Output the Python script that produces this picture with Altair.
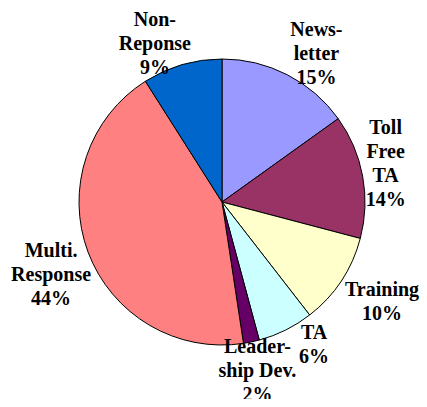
import math
import altair as alt
import pandas as pd

categories = ["Newsletter", "Toll Free TA", "Training", "TA", "Leadership Dev.", "Multi. Response", "Non-Reponse"]
values = [15.1, 14.0, 10.4, 6.3, 1.8, 43.4, 9.0]
label_names = ["News-\nletter", "Toll\nFree\nTA", "Training", "TA", "Leader-\nship Dev.", "Multi.\nResponse", "Non-\nReponse"]
pct_labels = ["15%", "14%", "10%", "6%", "2%", "44%", "9%"]
colors = ["#9999FF", "#993366", "#FFFFCC", "#CCFFFF", "#660066", "#FF8080", "#0066CC"]

PIE_R = 143
FONT_SIZE = 20
LINE_H = 24
GAP_X = 0            # horizontal gap between the pie edge and a label block
TOP_OVERLAP = 15     # labels above the pie sit slightly over its edge (as in the original)
BOTTOM_OVERLAP = 3
BOTTOM_LIMIT = 205   # lowest allowed label-block bottom, relative to the pie centre (px)
LABEL_DX = 3         # small rightward nudge of all labels
total = sum(values)

# approximate Times-Bold advance widths (1/1000 em), used only to lay labels out
_W = {"N": 722, "e": 444, "w": 722, "s": 389, "-": 333, "l": 278, "t": 333, "r": 444, "T": 667,
      "o": 500, "F": 611, "A": 722, "%": 1000, "a": 500, "i": 278, "n": 556, "g": 500, "L": 667,
      "d": 556, "h": 556, "p": 556, " ": 250, "D": 722, "v": 500, ".": 250, "M": 944, "u": 556,
      "R": 722}


def text_w(s):
    return sum(_W.get(c, 500) for c in s) / 1000 * FONT_SIZE


# --- spreadsheet-style "outside end" label layout
labels = []
cum = 0.0
for name, v, pct in zip(label_names, values, pct_labels):
    lines = name.split("\n") + [pct]
    labels.append({"a": (cum + v / 2) / total * 360, "lines": lines,
                   "w": max(text_w(s) for s in lines), "h": len(lines) * LINE_H})
    cum += v


def place(l):
    t = math.radians(l["a"])
    ex, ey = PIE_R * math.sin(t), -PIE_R * math.cos(t)
    sx = max(-1.0, min(1.0, 3 * math.sin(t)))
    sy = max(-1.0, min(1.0, -2 * math.cos(t)))
    ext_y = l["h"] / 2 - (BOTTOM_OVERLAP if sy > 0 else TOP_OVERLAP)
    cx, cy = ex + sx * (l["w"] / 2 + GAP_X), ey + sy * ext_y
    cy = min(cy, BOTTOM_LIMIT - l["h"] / 2)
    return cx, cy


def box(l):
    x, y = place(l)
    return x - l["w"] / 2, y - l["h"] / 2, x + l["w"] / 2, y + l["h"] / 2


for _ in range(400):
    moved = False
    for i in range(len(labels)):
        p, q = labels[i], labels[(i + 1) % len(labels)]
        b1, b2 = box(p), box(q)
        if b1[0] < b2[2] + 2 and b2[0] < b1[2] + 2 and b1[1] < b2[3] and b2[1] < b1[3]:
            p["a"] -= 0.25
            q["a"] += 0.25
            moved = True
    if not moved:
        break

pie_df = pd.DataFrame({"category": categories, "value": values, "order": list(range(len(categories)))})

rows = []
for cat, l in zip(categories, labels):
    x, y = place(l)
    ang = math.degrees(math.atan2(x, -y)) % 360
    n = len(l["lines"])
    for j, line in enumerate(l["lines"]):
        rows.append({"category": cat, "pos": ang / 360 * total, "r": math.hypot(x, y),
                     "line": line, "offset": (j - (n - 1) / 2) * LINE_H})
text_df = pd.DataFrame(rows)

theta_scale = alt.Scale(domain=[0, total])

pie = alt.Chart(pie_df).mark_arc(outerRadius=PIE_R, stroke="black", strokeWidth=1).encode(
    theta=alt.Theta("value:Q", stack=True, scale=theta_scale),
    order=alt.Order("order:Q", sort="ascending"),
    color=alt.Color("category:N", scale=alt.Scale(domain=categories, range=colors), legend=None),
)

text_layers = []
for off in sorted(set(text_df["offset"])):
    text_layers.append(
        alt.Chart(text_df).transform_filter(alt.datum.offset == off).mark_text(
            dx=LABEL_DX, dy=off, font="Liberation Serif", fontWeight="bold", fontSize=FONT_SIZE,
            color="black", align="center", baseline="middle",
        ).encode(
            theta=alt.Theta("pos:Q", scale=theta_scale),
            radius=alt.Radius("r:Q", scale=None),
            text="line:N",
        )
    )

chart = alt.layer(pie, *text_layers).properties(
    width=394, height=388,
    autosize=alt.AutoSizeParams(type="none"),
    padding={"left": 17, "top": 0, "right": 0, "bottom": 3},
).configure_view(stroke=None)

chart.save("out.html", embed_options={"renderer": "svg", "actions": False})
